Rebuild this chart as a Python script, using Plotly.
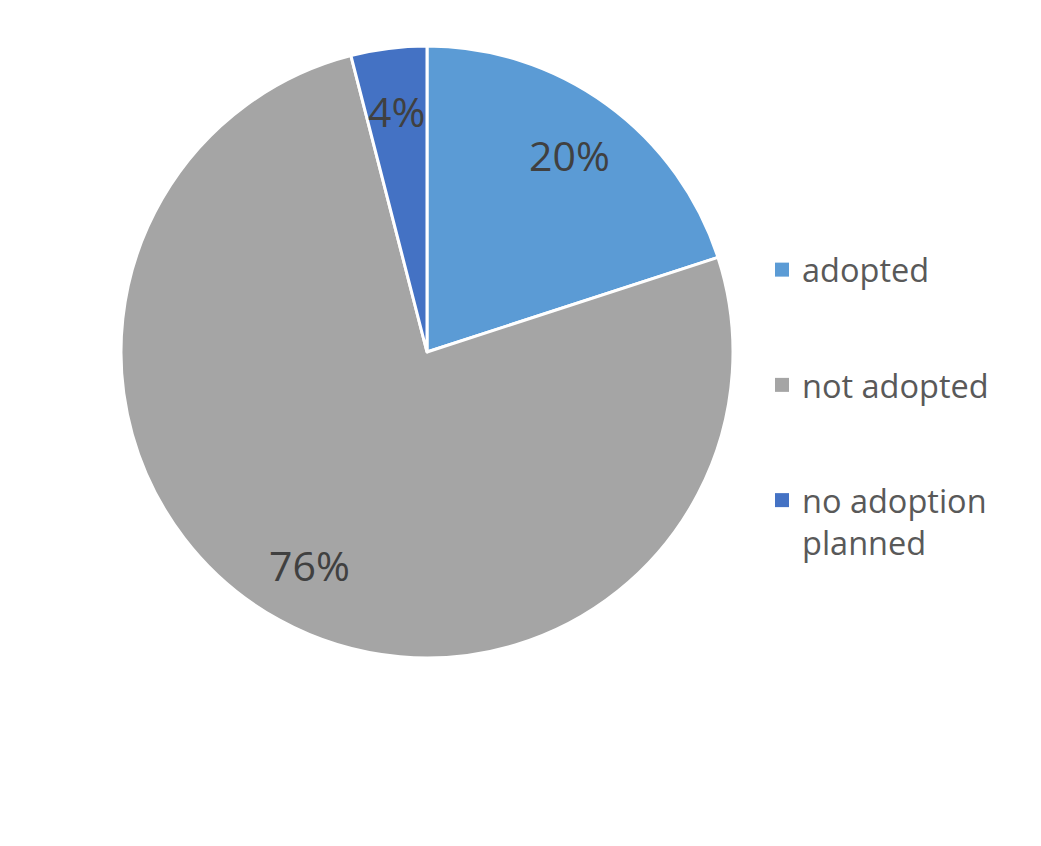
import math
import plotly.graph_objects as go

labels = ["adopted", "not adopted", "no adoption planned"]
legend_labels = ["adopted", "not adopted", "no adoption<br>planned"]
values = [20, 76, 4]
colors = ["#5B9BD5", "#A5A5A5", "#4472C4"]

W, H = 1041, 846
OFF = 8  # page body margin in the browser
FONT = "'Open Sans', 'Noto Sans', sans-serif"

# pie placement (pixels in the page)
CX, CY, R = 427 - OFF, 352 - OFF, 306
LABEL_R = 0.795  # fraction of radius where percentage labels sit

fig = go.Figure()
fig.add_trace(go.Pie(
    labels=labels,
    values=values,
    sort=False,
    direction="clockwise",
    rotation=0,
    marker=dict(colors=colors, line=dict(color="white", width=3)),
    textinfo="none",
    showlegend=False,
    hoverinfo="label+percent",
    domain=dict(x=[(CX - R) / W, (CX + R) / W],
                y=[1 - (CY + R) / H, 1 - (CY - R) / H]),
))

# percentage labels placed on each slice's bisector
total = sum(values)
cum = 0
annotations = []
for v in values:
    mid = (cum + v / 2) / total * 2 * math.pi
    cum += v
    px = CX + LABEL_R * R * math.sin(mid)
    py = CY - LABEL_R * R * math.cos(mid)
    annotations.append(dict(
        x=px / W, y=1 - py / H, xref="paper", yref="paper",
        text=f"{round(v / total * 100)}%", showarrow=False,
        xanchor="center", yanchor="middle",
        font=dict(family=FONT, size=41, color="#404040"),
    ))

for name, col in zip(legend_labels, colors):
    fig.add_trace(go.Scatter(
        x=[None], y=[None], mode="markers", name=name,
        marker=dict(symbol="square", size=14, color=col),
        legendgroup=name, showlegend=True,
    ))

fig.update_layout(
    width=W, height=H,
    margin=dict(l=0, r=0, t=0, b=0),
    paper_bgcolor="white", plot_bgcolor="white",
    xaxis=dict(visible=False), yaxis=dict(visible=False),
    font=dict(family=FONT),
    annotations=annotations,
    legend=dict(
        x=(762 - OFF) / W, y=1 - (242 - OFF) / H, xanchor="left", yanchor="top",
        font=dict(family=FONT, size=32.5, color="#595959"),
        tracegroupgap=70, valign="top",
        bgcolor="rgba(0,0,0,0)",
    ),
)

fig.write_html("out.html")
